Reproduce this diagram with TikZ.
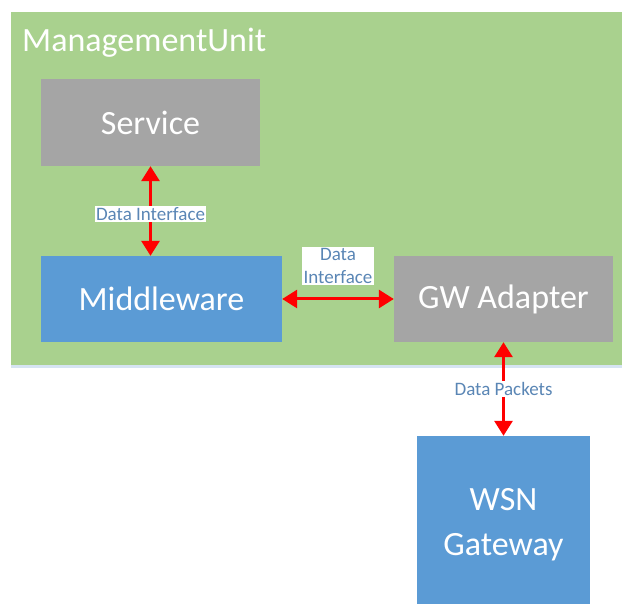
\documentclass[tikz,border=0pt]{standalone}
\usepackage{fontspec}
\setmainfont{Carlito}
\usetikzlibrary{arrows.meta}
\definecolor{mugreen}{HTML}{A9D18E}
\definecolor{boxgray}{HTML}{A5A5A5}
\definecolor{boxblue}{HTML}{5B9BD5}
\definecolor{lblblue}{HTML}{5A86B5}
\definecolor{shadowblue}{HTML}{D6E4F2}
\begin{document}
\begin{tikzpicture}[x=1pt,y=-1pt,
  blk/.style={draw=none,minimum width=#1,inner sep=0pt,text=white,font=\fontsize{34}{38}\selectfont,align=center},
  conn/.style={draw=red,line width=3pt,{Triangle[length=15pt,width=18pt]}-{Triangle[length=15pt,width=18pt]}},
  lbl/.style={font=\fontsize{19}{22}\selectfont,text=lblblue,inner sep=1.5pt,align=center}]
\useasboundingbox (0,0) rectangle (622,604);
\fill[shadowblue] (11,365) rectangle (622,368);
\fill[mugreen] (11,12) rectangle (622,365);
\node[anchor=west,text=white,font=\fontsize{34}{38}\selectfont,inner sep=0pt] (title) at (22,43) {ManagementUnit};
\node[fill=boxgray,blk=219pt,minimum height=87pt] (svc) at (150.5,122.5) {Service};
\node[fill=boxblue,blk=241pt,minimum height=86pt] (mw) at (161.5,299) {Middleware};
\node[fill=boxgray,blk=219pt,minimum height=86pt] (gw) at (503.5,299) {GW Adapter};
\node[fill=boxblue,blk=173pt,minimum height=168pt,font=\fontsize{34}{45}\selectfont,text depth=0pt] (wsn) at (503.5,520) {};
\node[text=white,font=\fontsize{34}{45}\selectfont,align=center,inner sep=0pt] (wsnt) at (503.5,525) {WSN\\Gateway};
\draw[conn] (svc.south) -- (svc.south |- mw.north);
\draw[conn] (mw.east) -- (gw.west);
\draw[conn] (gw.south) -- (gw.south |- wsn.north);
\node[lbl,fill=white] (l1) at (150.5,214) {Data Interface};
\node[lbl,fill=white,font=\fontsize{19}{23}\selectfont] (l2) at (338,266) {Data\\Interface};
\node[lbl,fill=white] (l3) at (503.5,389) {Data Packets};
\end{tikzpicture}
\end{document}
